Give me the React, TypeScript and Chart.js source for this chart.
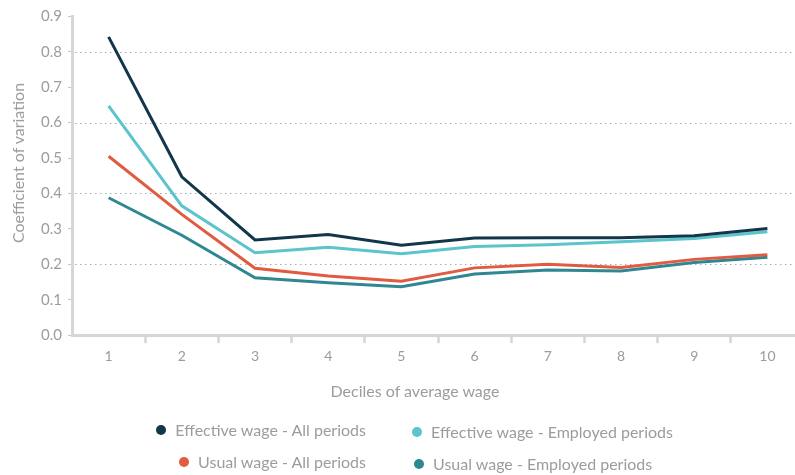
import React, { useEffect, useRef } from "react";
import { Chart, registerables } from "chart.js";

Chart.register(...registerables);

const deciles = ["1", "2", "3", "4", "5", "6", "7", "8", "9", "10"];
const effectiveAll = [0.842, 0.447, 0.269, 0.284, 0.254, 0.274, 0.275, 0.275, 0.281, 0.301];
const effectiveEmployed = [0.647, 0.365, 0.233, 0.248, 0.23, 0.25, 0.255, 0.264, 0.273, 0.292];
const usualAll = [0.505, 0.341, 0.189, 0.167, 0.152, 0.19, 0.2, 0.191, 0.214, 0.227];
const usualEmployed = [0.388, 0.282, 0.162, 0.148, 0.137, 0.173, 0.184, 0.181, 0.205, 0.22];
const seriesNames = [
  "Effective wage - All periods",
  "Effective wage - Employed periods",
  "Usual wage - All periods",
  "Usual wage - Employed periods",
];
const yMin = 0;
const yMax = 0.9;
const yStep = 0.1;
const xTitle = "Deciles of average wage";
const yTitle = "Coefficient of variation";

const COLORS = ["#12374a", "#5cc4cc", "#e05b40", "#2f8891"];
const FONT = "Lato, 'Open Sans', sans-serif";
const TEXT_GRAY = "#9c9c9c";
const AXIS_GRAY = "#d6d6d6";

const dottedGrid = {
  id: "dottedGrid",
  beforeDatasetsDraw(chart: any) {
    const { ctx, chartArea, scales } = chart;
    const y = scales.y;
    ctx.save();
    ctx.strokeStyle = "#ababab";
    ctx.lineWidth = 1;
    ctx.setLineDash([1.5, 3.5]);
    y.ticks.forEach((t: any) => {
      const k = Math.round(t.value * 10);
      if (k % 2 === 0 && k > 0 && k < 9) {
        const py = Math.round(y.getPixelForValue(t.value)) + 0.5;
        ctx.beginPath();
        ctx.moveTo(chartArea.left + 3, py);
        ctx.lineTo(chartArea.right, py);
        ctx.stroke();
      }
    });
    ctx.restore();
  },
};

export default function App() {
  const ref = useRef<HTMLCanvasElement | null>(null);

  useEffect(() => {
    if (!ref.current) return;
    const series = [effectiveAll, effectiveEmployed, usualAll, usualEmployed];
    const chart = new Chart(ref.current, {
      type: "line",
      data: {
        labels: deciles,
        datasets: series.map((d, i) => ({
          label: seriesNames[i],
          data: d,
          borderColor: COLORS[i],
          backgroundColor: COLORS[i],
          borderWidth: 3,
          pointRadius: 0,
          tension: 0,
          fill: false,
        })),
      },
      options: {
        animation: false,
        responsive: false,
        layout: { padding: { top: 16.3, left: 0, right: 0, bottom: 0 } },
        plugins: { legend: { display: false }, tooltip: { enabled: false } },
        scales: {
          x: {
            type: "category",
            offset: true,
            grid: {
              offset: true,
              drawOnChartArea: false,
              drawTicks: true,
              tickLength: 8,
              tickWidth: 2.5,
              tickColor: (c: any) => (c.index === 0 ? "rgba(0,0,0,0)" : AXIS_GRAY),
            },
            border: { color: AXIS_GRAY, width: 3 },
            ticks: {
              color: TEXT_GRAY,
              font: { family: FONT, size: 14 },
              padding: 5,
              maxRotation: 0,
            },
            afterFit: (s: any) => {
              s.height = 139.8;
            },
          },
          y: {
            min: yMin,
            max: yMax,
            ticks: {
              stepSize: yStep,
              color: TEXT_GRAY,
              font: { family: FONT, size: 15 },
              padding: 6,
              callback: (v: any) => Number(v).toFixed(1),
            },
            grid: {
              drawOnChartArea: false,
              drawTicks: true,
              tickLength: 4,
              tickWidth: 1,
              tickColor: "#c4c4c4",
            },
            border: { color: AXIS_GRAY, width: 3 },
            afterFit: (s: any) => {
              s.width = 72;
            },
          },
        },
      },
      plugins: [dottedGrid],
    });
    return () => chart.destroy();
  }, []);

  const textStyle: React.CSSProperties = {
    position: "absolute",
    fontFamily: FONT,
    fontSize: 16,
    color: TEXT_GRAY,
    whiteSpace: "nowrap",
    lineHeight: "20px",
  };

  const dot = (i: number): React.CSSProperties => ({
    display: "inline-block",
    width: 10,
    height: 10,
    borderRadius: "50%",
    background: COLORS[i],
    marginRight: 9,
    flex: "0 0 auto",
  });

  const legendItem = (i: number, pos: React.CSSProperties) => (
    <div
      key={i}
      style={{ ...textStyle, display: "flex", alignItems: "center", height: 20, ...pos }}
    >
      <span style={dot(i)} />
      <span>{seriesNames[i]}</span>
    </div>
  );

  return (
    <div
      style={{
        position: "fixed",
        left: 0,
        top: 0,
        width: 795,
        height: 475,
        overflow: "hidden",
        background: "#fff",
      }}
    >
      <canvas ref={ref} width={804} height={475} style={{ position: "absolute", left: 0, top: 0 }} />
      <div
        style={{
          ...textStyle,
          left: 18,
          top: 163,
          transform: "translate(-50%, -50%) rotate(-90deg)",
        }}
      >
        {yTitle}
      </div>
      <div style={{ ...textStyle, left: 415, top: 391, transform: "translate(-50%, -50%)" }}>
        {xTitle}
      </div>
      {legendItem(0, { right: 795 - 366, top: 420 })}
      {legendItem(1, { left: 412, top: 422 })}
      {legendItem(2, { right: 795 - 366, top: 452 })}
      {legendItem(3, { left: 414, top: 454 })}
    </div>
  );
}
